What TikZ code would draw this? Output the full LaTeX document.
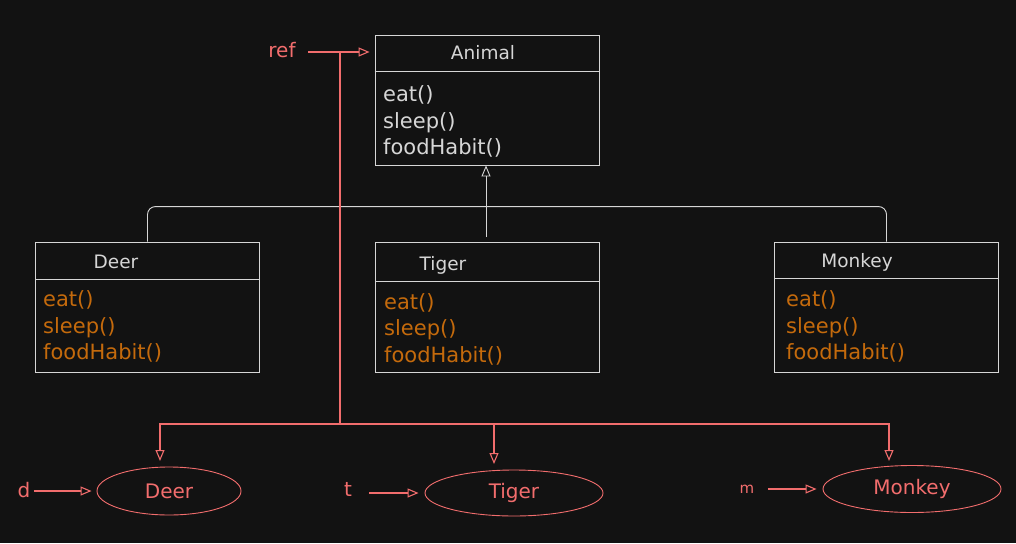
\documentclass[tikz,border=0pt]{standalone}
\usepackage{fontspec}
\setmainfont{DejaVu Sans}
\usetikzlibrary{arrows.meta,shapes.geometric,positioning,calc}
\definecolor{bgdark}{HTML}{121212}
\definecolor{classline}{HTML}{D6D6D6}
\definecolor{refred}{HTML}{F26D6D}
\definecolor{methodorange}{HTML}{C46A0C}
\tikzset{
  classbox/.style={draw=classline, line width=0.9pt, minimum width=224pt, minimum height=130pt, inner sep=0pt},
  classtitle/.style={text=classline, font=\fontsize{18.5}{20}\selectfont},
  basemethods/.style={text=classline, font=\fontsize{21}{26.5}\selectfont, align=left, anchor=west, inner sep=0pt},
  childmethods/.style={basemethods, text=methodorange},
  divider/.style={draw=classline, line width=0.9pt},
  hier/.style={draw=classline, line width=0.9pt, rounded corners=8pt},
  inherit/.style={draw=classline, line width=0.9pt, -{Triangle[open,length=11pt,width=9pt]}},
  reftext/.style={text=refred, font=\fontsize{20}{24}\selectfont},
  refline/.style={draw=refred, line width=1.1pt},
  refarrow/.style={refline, -{Triangle[open,length=11pt,width=9pt]}},
  objellipse/.style={ellipse, draw=refred, line width=0.9pt, text=refred, font=\fontsize{20}{24}\selectfont, inner sep=0pt}
}
\begin{document}
\begin{tikzpicture}[x=1pt,y=-1pt]
  \fill[bgdark] (0,0) rectangle (1016,543);
  \useasboundingbox (0,0) rectangle (1016,543);
  % class boxes
  \node[classbox] (animal) at (487,100) {};
  \node[classbox] (deer) at (147.5,307) {};
  \node[classbox] (tiger) at (487.5,307) {};
  \node[classbox] (monkey) at (886.5,307) {};
  \draw[divider] ($(animal.north west)+(0,37)$) -- ($(animal.north east)+(0,37)$);
  \draw[divider] ($(deer.north west)+(0,38)$) -- ($(deer.north east)+(0,38)$);
  \draw[divider] ($(tiger.north west)+(0,40)$) -- ($(tiger.north east)+(0,40)$);
  \draw[divider] ($(monkey.north west)+(0,37)$) -- ($(monkey.north east)+(0,37)$);
  % titles and methods
  \node[classtitle] (animaltitle) at (483,53) {Animal};
  \node[classtitle] (deertitle) at (116,262) {Deer};
  \node[classtitle] (tigertitle) at (443,265) {Tiger};
  \node[classtitle] (monkeytitle) at (857,262) {Monkey};
  \node[basemethods] (animalops) at (383,121.5) {eat()\\sleep()\\foodHabit()};
  \node[childmethods] (deerops) at (43,326.5) {eat()\\sleep()\\foodHabit()};
  \node[childmethods] (tigerops) at (384,329) {eat()\\sleep()\\foodHabit()};
  \node[childmethods] (monkeyops) at (786,326.5) {eat()\\sleep()\\foodHabit()};
  % inheritance
  \coordinate (tigerjoin) at (486,237);
  \draw[hier] (deer.north) -- ++(0,-35) -| (monkey.north);
  \draw[inherit] (tigerjoin) -- (animal.south -| tigerjoin);
  % objects
  \node[objellipse, minimum width=144pt, minimum height=48pt] (deerobj) at (169,491) {Deer};
  \node[objellipse, minimum width=178pt, minimum height=46pt] (tigerobj) at (514,493) {Tiger};
  \node[objellipse, minimum width=178pt, minimum height=47pt] (monkeyobj) at (912,489) {Monkey};
  % references
  \node[reftext] (ref) at (282,50) {ref};
  \node[reftext] (dref) at (24,490) {d};
  \node[reftext] (tref) at (348,489) {t};
  \node[reftext, font=\fontsize{15}{16}\selectfont] (mref) at (747,489) {m};
  \coordinate (refstart) at (308,52);
  \coordinate (refdrop) at (340,52);
  \coordinate (refsplit) at (340,424);
  \coordinate (dtop) at (160,461);
  \coordinate (ttop) at (494,464);
  \coordinate (mtop) at (889,461);
  \draw[refarrow, shorten >=5pt] (refstart) -- (animal.west |- refstart);
  \draw[refline] (refdrop) -- (refsplit);
  \draw[refarrow] (refsplit) -| (dtop);
  \draw[refarrow] (refsplit) -| (ttop);
  \draw[refarrow] (refsplit) -| (mtop);
  \draw[refarrow, shorten >=5pt] (dref.east |- deerobj.west) -- (deerobj.west);
  \draw[refarrow, shorten <=14pt, shorten >=6pt] (tref.east |- tigerobj.west) -- (tigerobj.west);
  \draw[refarrow, shorten <=10pt, shorten >=6pt] (mref.east |- monkeyobj.west) -- (monkeyobj.west);
\end{tikzpicture}
\end{document}
